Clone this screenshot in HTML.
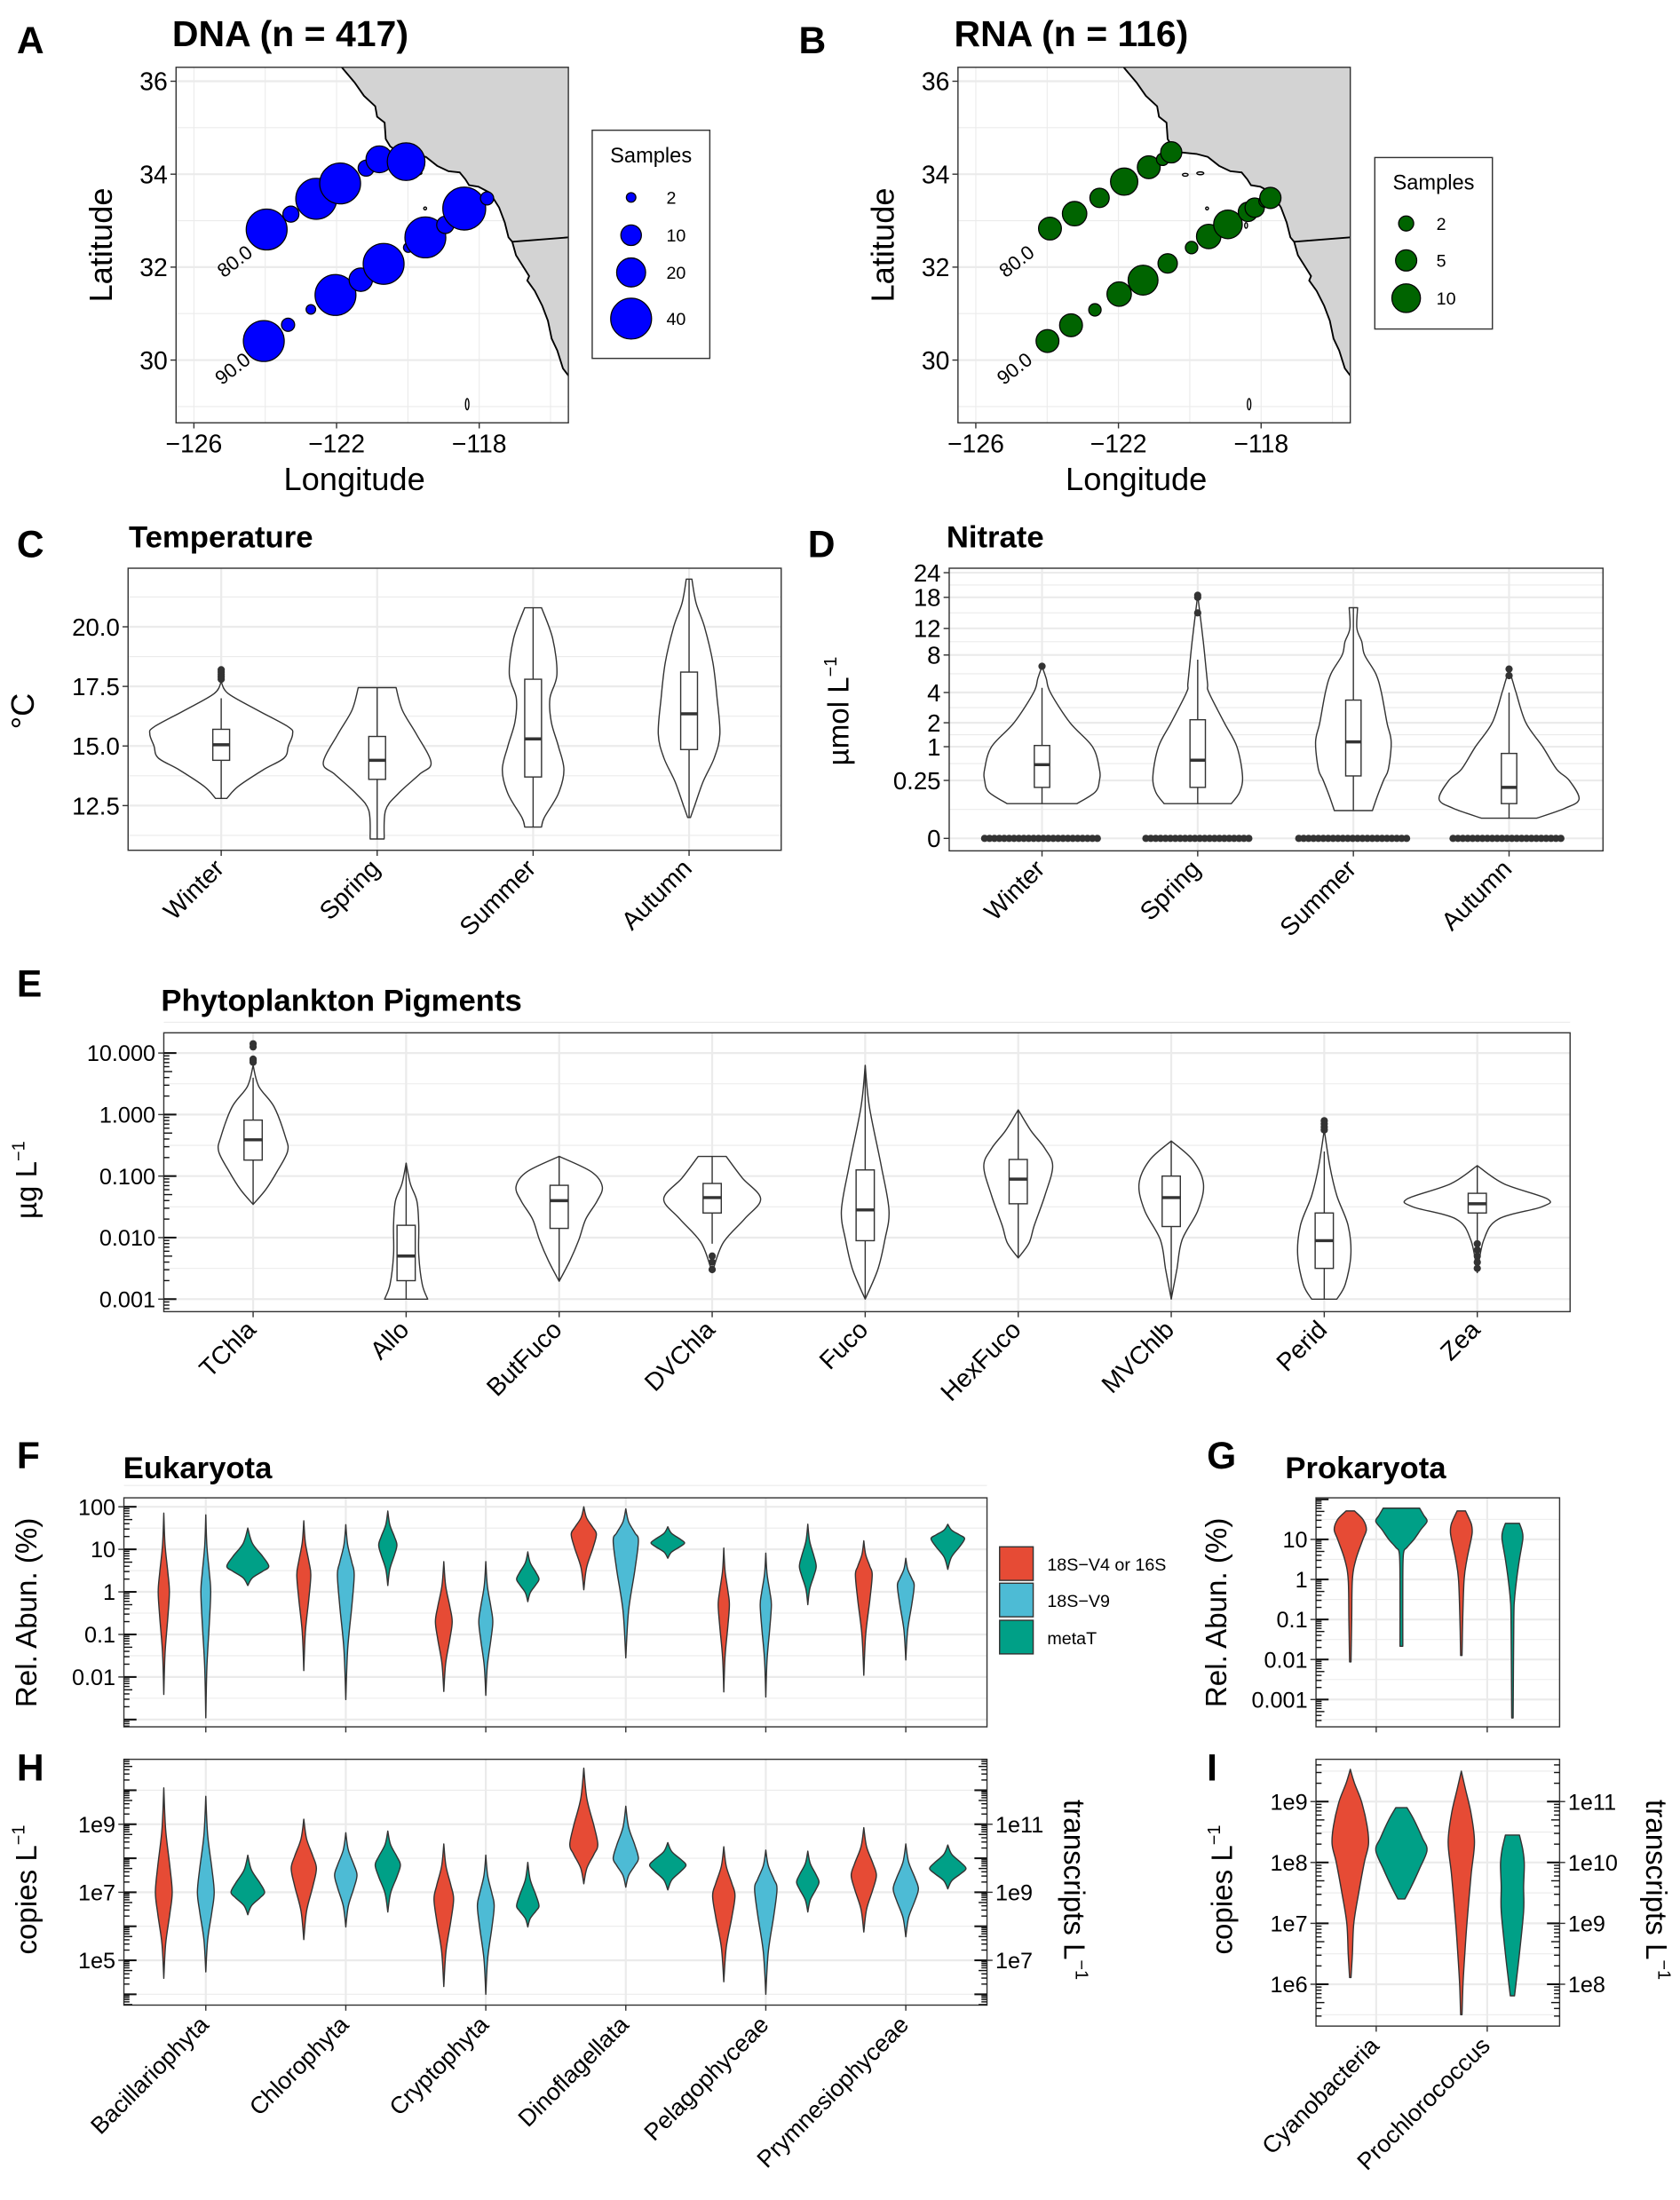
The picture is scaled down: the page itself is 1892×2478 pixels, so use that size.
<!DOCTYPE html>
<html><head><meta charset="utf-8"><title>Figure</title>
<style>html,body{margin:0;padding:0;background:#fff}svg{display:block}text{font-family:"Liberation Sans",Arial,sans-serif;fill:#000}</style>
</head><body>
<svg id="fig" xmlns="http://www.w3.org/2000/svg" width="1892" height="2478" viewBox="0 0 1200 1571.6"><defs id="defs"></defs></svg>
<script>
// ===== DATA =====
const dnaLon=[-123.96,-123.28,-122.57,-121.90,-121.17,-120.80,-120.05,-124.04,-123.36,-122.72,-122.03,-121.32,-120.68,-119.99,-119.51,-118.95,-118.42,-117.78];
const dnaLat=[32.81,33.14,33.47,33.80,34.13,34.32,34.27,30.41,30.76,31.09,31.40,31.73,32.07,32.42,32.64,32.91,33.26,33.48];
const dnaN=[40,6,40,40,6,17,34,40,4,2,40,13,40,2,40,7,44,4];
const rnaLon=[-123.92,-123.23,-122.53,-121.84,-121.15,-120.76,-120.52,-123.99,-123.33,-122.66,-121.98,-121.31,-120.62,-119.95,-119.47,-118.93,-118.37,-118.18,-117.89,-117.74];
const rnaLat=[32.83,33.15,33.49,33.84,34.15,34.32,34.47,30.41,30.75,31.08,31.42,31.72,32.08,32.42,32.66,32.92,33.19,33.28,33.42,33.49];
const rnaN=[6,7,4,9,6,1,5,6,6,1,7,11,4,1,7,10,4,4,1,5];
const dnaLegend=[2,10,20,40];
const rnaLegend=[2,5,10];
const seasons=['Winter','Spring','Summer','Autumn'];
const tempProf=[
 [[17.7,0],[17.2,5],[16.5,26],[15.8,48],[15.5,51],[15.0,48],[14.5,45],[14.0,30],[13.3,12],[12.8,4]],
 [[17.45,13.5],[16.5,18],[15.5,28],[14.3,38.5],[13.8,30],[13.0,15],[12.3,6],[11.1,5]],
 [[20.8,6],[19.5,14],[18,17],[17,12],[16,13],[15,18],[14,22],[13,18],[12,8],[11.6,6]],
 [[22.0,2],[21,5],[20,11],[18.5,17],[17,20],[15.5,22],[14.5,18],[13.5,10],[12.5,4],[12.0,1]]];
const tempQ1=[14.4,13.6,13.7,14.85], tempMed=[15.05,14.4,15.3,16.35], tempQ3=[15.7,15.4,17.8,18.1];
const tempLo=[12.8,11.1,11.6,12.0], tempHi=[17.0,17.45,20.8,22.0];
const tempOut=[[17.8,17.9,18.0,18.1,18.2],[],[],[]];
const tempTicks=[12.5,15.0,17.5,20.0];
const nitTicks=[0,0.25,1,2,4,8,12,18,24];
const nitProf=[
 [[6.8,0],[5.5,3],[4,6],[2,20],[1,36],[0.5,41],[0.25,41],[0.2,38],[0.15,25]],
 [[18.5,0],[14,2],[10,4],[8,5],[5,7],[4,8],[2,19],[1,28],[0.35,32],[0.2,30],[0.15,24]],
 [[16,3],[12,2.5],[10,6],[8,8],[6,16],[4,20],[2,24],[1.2,27],[0.5,25],[0.25,21.5],[0.18,17],[0.12,13.6]],
 [[6.5,0],[5,3],[4,5],[2,12],[1,24],[0.5,34],[0.25,43],[0.17,50],[0.13,40],[0.087,19.7]]];
const nitQ1=[0.22,0.22,0.35,0.15], nitMed=[0.6,0.7,1.2,0.22], nitQ3=[1.05,2.2,3.5,0.85];
const nitLo=[0.15,0.15,0.12,0.087], nitHi=[4.5,7.5,16,4];
const nitOut=[[6.8],[15,18,18.5],[],[5.8,6.5]];
const nitZeroSpread=[41,37,39,40];
const pigCats=['TChla','Allo','ButFuco','DVChla','Fuco','HexFuco','MVChlb','Perid','Zea'];
const pigProf=[
 [[0.8,0],[0.46,4],[0.125,15],[-0.36,23],[-0.6,24.6],[-0.93,17],[-1.22,9],[-1.46,0]],
 [[-0.79,0],[-1.125,3],[-1.41,7.7],[-1.8,9],[-2.28,9],[-2.76,11.5],[-3,15.4]],
 [[-0.68,0],[-0.93,23],[-1.17,30.8],[-1.41,27],[-1.7,19],[-2.04,14],[-2.375,7.7],[-2.71,0]],
 [[-0.68,10],[-1.03,21.5],[-1.37,34.6],[-1.7,23],[-2.09,7.7],[-2.57,0]],
 [[0.8,0],[0.125,3],[-0.84,11.5],[-1.56,17],[-2.04,14],[-2.52,9],[-3,0]],
 [[0.077,0],[-0.26,9],[-0.55,19],[-0.84,24.6],[-1.32,19],[-1.8,11.5],[-2.09,7.7],[-2.33,0]],
 [[-0.43,0],[-0.74,15.4],[-1.125,23],[-1.56,19],[-2.04,7.7],[-2.52,4],[-3,0]],
 [[-0.25,0],[-0.84,4],[-1.32,9],[-1.8,17],[-2.28,19],[-2.76,15],[-3,9]],
 [[-0.83,0],[-1.125,19],[-1.37,50],[-1.5,46],[-1.7,15],[-2.04,4.6],[-2.57,0]]];
const pigQ1=[-0.74,-2.7,-1.85,-1.6,-2.05,-1.45,-1.82,-2.5,-1.6];
const pigMed=[-0.41,-2.3,-1.4,-1.35,-1.55,-1.05,-1.35,-2.05,-1.45];
const pigQ3=[-0.09,-1.8,-1.15,-1.12,-0.9,-0.73,-1.0,-1.6,-1.28];
const pigLo=[-1.46,-3,-2.71,-2.1,-3,-2.33,-3,-3,-2.05];
const pigHi=[0.6,-0.79,-0.68,-0.68,0.8,0.077,-0.43,-0.6,-0.83];
const pigOut=[[1.15,1.1,0.9,0.88,0.85],[],[],[-2.3,-2.4,-2.52],[],[],[],[-0.1,-0.15,-0.2,-0.25],[-2.1,-2.2,-2.3,-2.4,-2.5]];
const pigTickLabels=['0.001','0.010','0.100','1.000','10.000'];
const eukCats=['Bacillariophyta','Chlorophyta','Cryptophyta','Dinoflagellata','Pelagophyceae','Prymnesiophyceae'];
const fRedTop=[1.85,1.67,0.71,2.0,1.03,1.2], fRedPeak=[0,0.4,-0.7,1.35,-0.3,0.4], fRedBot=[-2.41,-1.85,-2.34,0.05,-2.35,-1.96], fRedW=[4,5,6,9,4,6];
const fBlueTop=[1.81,1.58,0.71,1.95,0.91,0.79], fBluePeak=[0,0.4,-0.7,1.2,-0.3,0.15], fBlueBot=[-2.96,-2.53,-2.43,-1.55,-2.47,-1.6], fBlueW=[3.5,6,5,9,4,6];
const fGrnTop=[1.5,1.9,0.94,1.53,1.59,1.59], fGrnPeak=[0.6,1.1,0.3,1.15,0.6,1.25], fGrnBot=[0.15,0.15,-0.23,0.79,-0.3,0.53], fGrnW=[15,6.5,8,12,6,12];
const fTickLabels=['0.01','0.1','1','10','100'];
const hRedTop=[10.07,9.15,8.42,10.65,8.34,8.9], hRedPeak=[7,7.7,6.8,8.4,6.9,7.5], hRedBot=[4.47,5.61,4.23,7.25,4.37,5.83], hRedW=[6,9,7,10,8,9];
const hBlueTop=[9.82,8.75,8.09,9.53,8.24,8.42], hBluePeak=[7,7.5,6.6,8.0,7.1,7.1], hBlueBot=[4.66,5.98,4.0,7.15,4.0,5.69], hBlueW=[6,8,6,9,8,9];
const hGrnTop=[10.09,10.8,9.88,10.46,10.21,10.39], hGrnPeak=[9.0,9.8,8.6,9.8,9.3,9.7], hGrnBot=[8.34,8.42,7.98,9.07,8.42,9.1], hGrnW=[12,9,8,13,8,13];
const proCats=['Cyanobacteria','Prochlorococcus'];
const gRedProf=[[[1.71,3],[1.5,9],[1.25,11.5],[1.0,9],[0.5,4],[0,1.5],[-1,1],[-2.06,0.5]],
 [[1.71,3],[1.4,7],[1.2,7.8],[1.0,7],[0.5,4],[0,2],[-1,1],[-1.9,0.5]]];
const gGrnProf=[[[1.78,13],[1.6,16],[1.45,18.3],[1.25,14],[1.0,9],[0.8,4],[0.65,1.5],[0,1],[-1.67,1]],
 [[1.4,5],[1.2,7],[1.0,7.4],[0.5,5],[0,3],[-0.5,1.5],[-1,1],[-3.46,0.5]]];
const gTickLabels=['0.001','0.01','0.1','1','10'];
const iRedProf=[[[9.53,0],[9.3,3],[9.0,8],[8.6,12],[8.3,13],[8.0,10],[7.5,6],[7.0,2.5],[6.5,1.5],[6.11,0.5]],
 [[9.5,0],[9.2,3],[8.8,7],[8.33,9.4],[7.8,7],[7.0,4],[6.5,2.5],[6.0,1.2],[5.5,0.5]]];
const iGrnProf=[[[10.9,4],[10.7,9],[10.4,15],[10.2,18.3],[9.9,13],[9.6,7],[9.4,2.5]],
 [[10.45,5],[10.2,7.5],[9.97,8.5],[9.6,8],[9.2,8],[8.5,5],[8.1,3],[7.81,1.5]]];

// ===== HELPERS =====
const NS='http://www.w3.org/2000/svg';
const svg=document.getElementById('fig');
const defs=document.getElementById('defs');
function mk(tag,attrs,parent){const e=document.createElementNS(NS,tag);for(const k in attrs)e.setAttribute(k,attrs[k]);(parent||svg).appendChild(e);return e;}
function txt(s,attrs,parent){const e=mk('text',attrs,parent);e.textContent=s;return e;}
function segs(p){let d='';for(let i=0;i<p.length-1;i++){const p0=p[i-1]||p[i],p1=p[i],p2=p[i+1],p3=p[i+2]||p2;
 const c1=[(p1[0]+(p2[0]-p0[0])/6).toFixed(2),(p1[1]+(p2[1]-p0[1])/6).toFixed(2)];
 const c2=[(p2[0]-(p3[0]-p1[0])/6).toFixed(2),(p2[1]-(p3[1]-p1[1])/6).toFixed(2)];
 d+=' C'+c1+' '+c2+' '+p2[0].toFixed(2)+','+p2[1].toFixed(2);}return d;}
function violinD(cx,prof,ys){const R=prof.map(p=>[cx+p[1],ys(p[0])]);const L=prof.slice().reverse().map(p=>[cx-p[1],ys(p[0])]);
 return 'M'+R[0][0].toFixed(2)+','+R[0][1].toFixed(2)+segs(R)+' L'+L[0][0].toFixed(2)+','+L[0][1].toFixed(2)+segs(L)+' Z';}
function shape(top,peak,bot,w){return [[top,0],[peak+(top-peak)*0.6,w*0.22],[peak+(top-peak)*0.25,w*0.72],[peak,w],[peak-(peak-bot)*0.25,w*0.72],[peak-(peak-bot)*0.6,w*0.22],[bot,0]];}
let clipN=0;
function panel(p,name){
 const cp=mk('clipPath',{id:'clip'+(++clipN)},defs);
 mk('rect',{x:p.x0,y:p.y0,width:p.x1-p.x0,height:p.y1-p.y0},cp);
 const g=mk('g',{});
 
 
 const bg=mk('rect',{x:p.x0,y:p.y0,width:p.x1-p.x0,height:p.y1-p.y0,fill:'#fff'},g);
 
 
 const grid=mk('g',{},g);
 
 
 const marks=mk('g',{'clip-path':'url(#clip'+clipN+')'},g);
 
 
 return {g,grid,marks,p,name};
}
function border(P){const r=mk('rect',{x:P.p.x0,y:P.p.y0,width:P.p.x1-P.p.x0,height:P.p.y1-P.p.y0,fill:'none',stroke:'#333','stroke-width':0.9},P.g);
 
 }
function hgrid(P,y,major){const l=mk('line',{x1:P.p.x0,x2:P.p.x1,y1:y,y2:y,stroke:'#EBEBEB','stroke-width':major?1.4:0.7},P.grid);
 
 }
function vgrid(P,x,major){const l=mk('line',{x1:x,x2:x,y1:P.p.y0,y2:P.p.y1,stroke:'#EBEBEB','stroke-width':major?1.4:0.7},P.grid);
 
 }
function yTick(P,y,label,fs,side){const right=side==='r';const x=right?P.p.x1:P.p.x0;
 const t=mk('line',{x1:x,x2:right?x+4:x-4,y1:y,y2:y,stroke:'#333','stroke-width':0.9},P.g);
 
 
 const tx=txt(label,{x:right?x+6:x-6,y:y+fs*0.36,'font-size':fs,'text-anchor':right?'start':'end',fill:'#1a1a1a'},P.g);
 
 }
function xTick(P,x){const t=mk('line',{x1:x,x2:x,y1:P.p.y1,y2:P.p.y1+4,stroke:'#333','stroke-width':0.9},P.g);
 
 }
function xRotLabel(P,x,label,fs,dy){const t=txt(label,{x:x+3,y:P.p.y1+dy,'font-size':fs,'text-anchor':'end',transform:'rotate(-45 '+(x+3)+' '+(P.p.y1+dy)+')',fill:'#1a1a1a'},P.g);
 
 }
function logTicks(P,ys,lo,hi,side){for(let d=Math.floor(lo);d<=hi;d++){for(let k=1;k<=9;k++){const l=d+Math.log10(k);if(l<lo||l>hi)continue;
 const len=k===1?9:(k===5?6:4);const x=side==='r'?P.p.x1:P.p.x0;const y=ys(l);
 const t=mk('line',{x1:x,x2:side==='r'?x-len:x+len,y1:y,y2:y,stroke:'#111','stroke-width':k===1?1.3:0.9},P.g);
 
 }}}
function label(s,x,y,fs,opts){const a=Object.assign({x:x,y:y,'font-size':fs},opts||{});const t=txt(s,a);return t;}
function boxplot(P,cx,hw,ys,q1,med,q3,lo,hi,name){
 const w1=mk('line',{x1:cx,x2:cx,y1:ys(q3),y2:ys(hi),stroke:'#333','stroke-width':0.9},P.marks);
 
 
 const w2=mk('line',{x1:cx,x2:cx,y1:ys(q1),y2:ys(lo),stroke:'#333','stroke-width':0.9},P.marks);
 
 
 const b=mk('rect',{x:cx-hw,y:ys(q3),width:2*hw,height:ys(q1)-ys(q3),fill:'#fff',stroke:'#333','stroke-width':0.9},P.marks);
 
 
 const m=mk('line',{x1:cx-hw,x2:cx+hw,y1:ys(med),y2:ys(med),stroke:'#333','stroke-width':2.2},P.marks);
 
 }
function violin(P,cx,prof,ys,fill,name){const v=mk('path',{d:violinD(cx,prof,ys),fill:fill,stroke:'#333','stroke-width':0.9,'stroke-linejoin':'round'},P.marks);
 
 }
function outlier(P,cx,y,name){const c=mk('circle',{cx:cx,cy:y,r:2.6,fill:'#333'},P.marks);
 
 }
function panelLetter(s,x,y){const t=label(s,x,y,27,{'font-weight':'bold'});
 
 }
function title(s,x,y,fs,nm){const t=label(s,x,y,fs,{'font-weight':'bold'});
 
 }
function yTitle(s,x,y,fs,rot,nm,sup){const t=txt(s,{x:x,y:y,'font-size':fs,'text-anchor':'middle',transform:'rotate('+rot+' '+x+' '+y+')'});
 if(sup){const ts=mk('tspan',{'font-size':fs*0.6,dy:-fs*0.4},t);ts.textContent=sup;}
 
 }

// ===== MAPS =====
const coastZ=[[483,45],[520,100],[545,145],[575,180],[580,215],[600,235],[603,290],[615,315],[640,335],[680,340],[710,350],[740,380],[770,398],[800,402],[815,425],[825,445],[850,450],[880,470],[905,520],[920,570],[930,620],[940,635],[950,680],[970,720],[985,750],[980,765],[1000,800],[1020,850],[1035,900],[1045,960],[1060,1000],[1075,1060],[1090,1085]];
function zLon(z){return -126+(z-92)/95;} function zLat(z){return 34-(z-408)/156;}
function drawMap(off,lons,lats,ns,legN,rfun,color,titleS,letter,legBox,legKeyX,legYs,legLabX){
 const mx=lon=>138.5+off+(lon+126)*25.475; const my=lat=>58+(36-lat)*33.2;
 const P=panel({x0:mx(-126.5),x1:mx(-115.5),y0:my(36.3),y1:my(28.65)},'map-'+letter.toLowerCase());
 for(let lon=-126;lon<=-116;lon+=2)vgrid(P,mx(lon),lon%4===2);
 for(let lat=29;lat<=36;lat++)hgrid(P,my(lat),lat%2===0);
 const pts=coastZ.map(c=>[mx(zLon(c[0])),my(zLat(c[1]))]);
 const land=mk('polygon',{points:pts.map(p=>p.join(',')).join(' ')+' '+mx(zLon(1090))+','+my(zLat(45)),fill:'#D3D3D3'},P.marks);
 
 
 const cl=mk('polyline',{points:pts.map(p=>p.join(',')).join(' '),fill:'none',stroke:'#000','stroke-width':1.2},P.marks);
 
 
 const bd=mk('line',{x1:mx(zLon(940)),y1:my(zLat(635)),x2:mx(zLon(1090)),y2:my(zLat(620)),stroke:'#000','stroke-width':1.2},P.marks);
 
 
 [[650,410,2,1],[690,405,2.5,1],[708,523,1,1],[812,580,1,2],[820,1180,1.2,4]].forEach(s=>{const e=mk('ellipse',{cx:mx(zLon(s[0])),cy:my(zLat(s[1])),rx:s[2],ry:s[3],fill:'#fff',stroke:'#000','stroke-width':0.9},P.marks);
  
  });
 for(let i=0;i<lons.length;i++){const c=mk('circle',{cx:mx(lons[i]),cy:my(lats[i]),r:rfun(ns[i]),fill:color,stroke:'#000','stroke-width':0.8},P.marks);
  
  }
 [['80.0',-124.86,32.13],['90.0',-124.92,29.82]].forEach(l=>{const x=mx(l[1]),y=my(l[2]);const t=txt(l[0],{x:x,y:y+5,'font-size':14,'text-anchor':'middle',transform:'rotate(-38 '+x+' '+y+')'},P.marks);
  
  });
 border(P);
 [36,34,32,30].forEach(l=>yTick(P,my(l),String(l),18));
 [-126,-122,-118].forEach(l=>{xTick(P,mx(l));const t=txt('\u2212'+Math.abs(l),{x:mx(l),y:P.p.y1+21,'font-size':18,'text-anchor':'middle',fill:'#1a1a1a'},P.g);
  
  });
 yTitle('Latitude',off+80,175,23,-90,'y-axis-title-latitude');
 const lt=label('Longitude',mx(-121.5),350,23,{'text-anchor':'middle'});
 
 
 panelLetter(letter,off+12,38);
 title(titleS,off+123,33,26,'map-title');
 const lg=mk('g',{});
 
 
 const lb=mk('rect',{x:legBox[0],y:legBox[1],width:legBox[2],height:legBox[3],fill:'#fff',stroke:'#333','stroke-width':0.9},lg);
 
 
 const lti=txt('Samples',{x:legBox[0]+legBox[2]/2,y:legBox[1]+23,'font-size':15,'text-anchor':'middle'},lg);
 
 
 legN.forEach((n,i)=>{const c=mk('circle',{cx:legKeyX,cy:legYs[i],r:rfun(n),fill:color,stroke:'#000','stroke-width':0.8},lg);
  
  
  const t=txt(String(n),{x:legLabX,y:legYs[i]+4.5,'font-size':12.5},lg);
  
  });
}
drawMap(0,dnaLon,dnaLat,dnaN,dnaLegend,n=>Math.sqrt(11.6+5.3*(n-2)),'#0000FF','DNA (n = 417)','A',[423,93,84,163],450.8,[141,168,194.6,227.6],476);
drawMap(558.5,rnaLon,rnaLat,rnaN,rnaLegend,n=>Math.sqrt(Math.max(4,29+9.4*(n-2))),'#006400','RNA (n = 116)','B',[982,112.5,84,122.5],1004.4,[159.6,186,213],1026);

// ===== C: Temperature =====
(function(){
 const P=panel({x0:91.5,x1:558,y0:405.9,y1:607.4},'temperature-panel');
 const ys=v=>532.9-(v-15)*17.03; const xs=i=>158+i*111.4;
 for(let v=11.25;v<=22;v+=1.25)hgrid(P,ys(v),Math.abs((v/2.5)-Math.round(v/2.5))<0.01);
 seasons.forEach((s,i)=>vgrid(P,xs(i),true));
 seasons.forEach((s,i)=>{violin(P,xs(i),tempProf[i],ys,'#fff','temperature-violin-'+s.toLowerCase());
  boxplot(P,xs(i),6,ys,tempQ1[i],tempMed[i],tempQ3[i],tempLo[i],tempHi[i],'temperature-'+s.toLowerCase());
  tempOut[i].forEach(v=>outlier(P,xs(i),ys(v),'temperature-outlier'));});
 border(P);
 tempTicks.forEach(v=>yTick(P,ys(v),v.toFixed(1),17.5));
 seasons.forEach((s,i)=>{xTick(P,xs(i));xRotLabel(P,xs(i),s,18,14);});
 yTitle('\u00B0C',24,508,23,-90,'y-axis-title-temperature');
 panelLetter('C',12,398); title('Temperature',92,391,22,'temperature-title');
})();

// ===== D: Nitrate =====
const nitPos=[598.9,557.5,533.4,516.3,494.7,467.9,448.9,426.7,409.1];
(function(){
 const P=panel({x0:678,x1:1145,y0:405.9,y1:607.8},'nitrate-panel');
 const ys=v=>{for(let k=0;k<nitTicks.length-1;k++){if(v<=nitTicks[k+1]||k===nitTicks.length-2){const t=(v-nitTicks[k])/(nitTicks[k+1]-nitTicks[k]);return nitPos[k]+t*(nitPos[k+1]-nitPos[k]);}}};
 const xs=i=>744.3+i*111.2;
 for(let k=0;k<nitTicks.length-1;k++)hgrid(P,(ys(nitTicks[k])+ys(nitTicks[k+1]))/2,false);
 nitTicks.forEach(v=>hgrid(P,ys(v),true));
 seasons.forEach((s,i)=>vgrid(P,xs(i),true));
 seasons.forEach((s,i)=>{violin(P,xs(i),nitProf[i],ys,'#fff','nitrate-violin-'+s.toLowerCase());
  boxplot(P,xs(i),5.5,ys,nitQ1[i],nitMed[i],nitQ3[i],nitLo[i],nitHi[i],'nitrate-'+s.toLowerCase());
  nitOut[i].forEach(v=>outlier(P,xs(i),ys(v),'nitrate-outlier'));
  for(let dx=-nitZeroSpread[i];dx<=nitZeroSpread[i];dx+=3.5){outlier(P,xs(i)+dx,ys(0),'nitrate-zero-point');}});
 border(P);
 nitTicks.forEach(v=>yTick(P,ys(v),String(v),17.5));
 seasons.forEach((s,i)=>{xTick(P,xs(i));xRotLabel(P,xs(i),s,18,14);});
 yTitle('\u00B5mol L',606,508,21,-90,'y-axis-title-nitrate','\u22121');
 panelLetter('D',577,398); title('Nitrate',676,391,22,'nitrate-title');
})();

// ===== E: Pigments =====
(function(){
 const P=panel({x0:117,x1:1121.5,y0:737.8,y1:937},'pigments-panel');
 const ys=l=>796.2-l*43.95; const xs=i=>180.8+i*109.3;
 for(let l=-3;l<=1;l++){hgrid(P,ys(l),true);hgrid(P,ys(l+0.5),false);}
 pigCats.forEach((c,i)=>vgrid(P,xs(i),true));
 pigCats.forEach((c,i)=>{violin(P,xs(i),pigProf[i],ys,'#fff','pigment-violin-'+c.toLowerCase());
  boxplot(P,xs(i),6.5,ys,pigQ1[i],pigMed[i],pigQ3[i],pigLo[i],pigHi[i],'pigment-'+c.toLowerCase());
  pigOut[i].forEach(v=>outlier(P,xs(i),ys(v),'pigment-outlier'));});
 border(P);
 logTicks(P,ys,-3.2,1.3,'l');
 pigTickLabels.forEach((s,k)=>yTick(P,ys(k-3),s,16));
 pigCats.forEach((c,i)=>{xTick(P,xs(i));xRotLabel(P,xs(i),c,18,14);});
 yTitle('\u00B5g L',26,843,21,-90,'y-axis-title-pigments','\u22121');
 panelLetter('E',12,712); title('Phytoplankton Pigments',115,722,22,'pigments-title');
})();

// ===== F: Eukaryota relative =====
const COL={red:'#E64B35',blue:'#4DBBD5',grn:'#00A087'};
(function(){
 const P=panel({x0:88.5,x1:705,y0:1070,y1:1233.6},'eukaryota-rel-panel');
 const ys=l=>1137.2-l*30.4; const xs=i=>147+i*100;
 for(let l=-3;l<=2;l++){hgrid(P,ys(l),true);hgrid(P,ys(l+0.5),false);}
 eukCats.forEach((c,i)=>vgrid(P,xs(i),true));
 eukCats.forEach((c,i)=>{
  violin(P,xs(i)-30,shape(fRedTop[i],fRedPeak[i],fRedBot[i],fRedW[i]),ys,COL.red,'violin-18s-v4-'+c.toLowerCase());
  violin(P,xs(i),shape(fBlueTop[i],fBluePeak[i],fBlueBot[i],fBlueW[i]),ys,COL.blue,'violin-18s-v9-'+c.toLowerCase());
  violin(P,xs(i)+30,shape(fGrnTop[i],fGrnPeak[i],fGrnBot[i],fGrnW[i]),ys,COL.grn,'violin-metat-'+c.toLowerCase());});
 border(P);
 logTicks(P,ys,-3.17,2.21,'l');
 fTickLabels.forEach((s,k)=>yTick(P,ys(k-2),s,16));
 eukCats.forEach((c,i)=>xTick(P,xs(i)));
 yTitle('Rel. Abun. (%)',26,1152,21,-90,'y-axis-title-rel-abun-euk');
 panelLetter('F',12,1049); title('Eukaryota',88,1056,22,'eukaryota-title');
 const lg=mk('g',{});
 
 
 [['18S\u2212V4 or 16S',COL.red,1104],['18S\u2212V9',COL.blue,1130],['metaT',COL.grn,1156.5]].forEach(e=>{
  const r=mk('rect',{x:714,y:e[2]+1,width:24,height:24,fill:e[1],stroke:'#333','stroke-width':0.9},lg);
  
  
  const t=txt(e[0],{x:748,y:e[2]+18,'font-size':12.5},lg);
  
  });
})();

// ===== H: Eukaryota absolute =====
(function(){
 const P=panel({x0:88.5,x1:705,y0:1256.8,y1:1432.4},'eukaryota-abs-panel');
 const ys=l=>1303.2-(l-9)*24.3; const yr=l=>ys(l-2); const xs=i=>147+i*100;
 for(let l=4;l<=10;l++)hgrid(P,ys(l),l%2===1);
 eukCats.forEach((c,i)=>vgrid(P,xs(i),true));
 eukCats.forEach((c,i)=>{
  violin(P,xs(i)-30,shape(hRedTop[i],hRedPeak[i],hRedBot[i],hRedW[i]),ys,COL.red,'abs-violin-18s-v4-'+c.toLowerCase());
  violin(P,xs(i),shape(hBlueTop[i],hBluePeak[i],hBlueBot[i],hBlueW[i]),ys,COL.blue,'abs-violin-18s-v9-'+c.toLowerCase());
  violin(P,xs(i)+30,shape(hGrnTop[i],hGrnPeak[i],hGrnBot[i],hGrnW[i]),yr,COL.grn,'abs-violin-metat-'+c.toLowerCase());});
 border(P);
 logTicks(P,ys,3.68,10.91,'l'); logTicks(P,ys,3.68,10.91,'r');
 [9,7,5].forEach(l=>yTick(P,ys(l),'1e'+l,16));
 [11,9,7].forEach(l=>yTick(P,yr(l),'1e'+l,16,'r'));
 eukCats.forEach((c,i)=>{xTick(P,xs(i));xRotLabel(P,xs(i),c,17,15);});
 yTitle('copies L',26,1350,21,-90,'y-axis-title-copies-euk','\u22121');
 yTitle('transcripts L',760,1350,21,90,'y-axis-title-transcripts-euk','\u22121');
 panelLetter('H',12,1272);
})();

// ===== G: Prokaryota relative =====
(function(){
 const P=panel({x0:940,x1:1114,y0:1070,y1:1233.6},'prokaryota-rel-panel');
 const ys=l=>1128.3-l*28.6; const xs=i=>983+i*79.3;
 for(let l=-3;l<=1;l++){hgrid(P,ys(l),true);hgrid(P,ys(l+0.5),false);}
 hgrid(P,ys(-3.5),false);
 proCats.forEach((c,i)=>vgrid(P,xs(i),true));
 proCats.forEach((c,i)=>{violin(P,xs(i)-18.5,gRedProf[i],ys,COL.red,'prok-violin-16s-'+c.toLowerCase());
  violin(P,xs(i)+18,gGrnProf[i],ys,COL.grn,'prok-violin-metat-'+c.toLowerCase());});
 border(P);
 logTicks(P,ys,-3.68,2.03,'l');
 gTickLabels.forEach((s,k)=>yTick(P,ys(k-3),s,16));
 proCats.forEach((c,i)=>xTick(P,xs(i)));
 yTitle('Rel. Abun. (%)',876,1152,21,-90,'y-axis-title-rel-abun-prok');
 panelLetter('G',862,1049); title('Prokaryota',918,1056,22,'prokaryota-title');
})();

// ===== I: Prokaryota absolute =====
(function(){
 const P=panel({x0:940,x1:1114,y0:1256.8,y1:1447.4},'prokaryota-abs-panel');
 const ys=l=>1287-(l-9)*43.5; const yr=l=>ys(l-2); const xs=i=>983+i*79.3;
 for(let l=5.5;l<=9.5;l+=0.5)hgrid(P,ys(l),Number.isInteger(l));
 proCats.forEach((c,i)=>vgrid(P,xs(i),true));
 proCats.forEach((c,i)=>{violin(P,xs(i)-18.5,iRedProf[i],ys,COL.red,'prok-abs-violin-16s-'+c.toLowerCase());
  violin(P,xs(i)+18,iGrnProf[i],yr,COL.grn,'prok-abs-violin-metat-'+c.toLowerCase());});
 border(P);
 logTicks(P,ys,5.31,9.69,'l'); logTicks(P,ys,5.31,9.69,'r');
 [9,8,7,6].forEach(l=>yTick(P,ys(l),'1e'+l,16));
 [11,10,9,8].forEach(l=>yTick(P,yr(l),'1e'+l,16,'r'));
 proCats.forEach((c,i)=>{xTick(P,xs(i));xRotLabel(P,xs(i),c,17,15);});
 yTitle('copies L',880,1350,21,-90,'y-axis-title-copies-prok','\u22121');
 yTitle('transcripts L',1176,1350,21,90,'y-axis-title-transcripts-prok','\u22121');
 panelLetter('I',862,1272);
})();
</script>
</body></html>
